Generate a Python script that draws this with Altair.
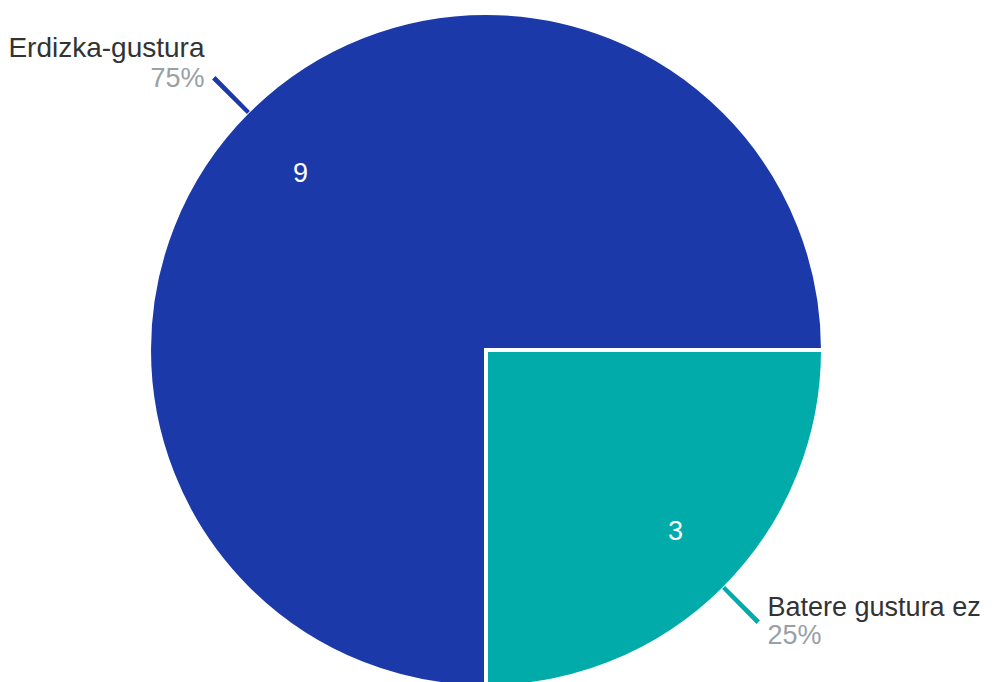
import math
import altair as alt
import pandas as pd

categories = ["Batere gustura ez", "Erdizka-gustura"]
values = [3, 9]
colors = ["#00aba9", "#1c39a9"]

df = pd.DataFrame({"category": categories, "value": values, "idx": list(range(len(categories)))})

theta_scale = alt.Scale(range=[math.pi / 2, math.pi / 2 + 2 * math.pi])
color_scale = alt.Scale(domain=categories, range=colors)
CX, CY = 478, 342
FONT = "Liberation Sans"

base = alt.Chart(df).transform_joinaggregate(total="sum(value)").transform_window(
    cum="sum(value)", sort=[alt.SortField("idx")], frame=[None, 0]
).transform_calculate(
    mid="datum.cum - datum.value / 2",
    t1="datum.cum - datum.value / 2 - 0.012",
    t2="datum.cum - datum.value / 2 + 0.012",
    pct="format(datum.value / datum.total, '.0%')",
)

pie = base.mark_arc(outerRadius=337, stroke="white", strokeWidth=4).encode(
    theta=alt.Theta("value:Q", stack=True, scale=theta_scale),
    color=alt.Color("category:N", scale=color_scale, legend=None),
    order=alt.Order("idx:Q"),
    x=alt.value(CX),
    y=alt.value(CY),
)

def inner(cat, dx, dy):
    return base.mark_text(radius=258, dx=dx, dy=dy, fontSize=27, font=FONT, color="white").encode(
        theta=alt.Theta("value:Q", stack=True, scale=theta_scale),
        text=alt.Text("value:Q"),
        opacity=alt.condition(alt.datum.category == cat, alt.value(1), alt.value(0)),
        order=alt.Order("idx:Q"),
        x=alt.value(CX),
        y=alt.value(CY),
    )

leaders = base.mark_arc(radius=336, radius2=385).encode(
    theta=alt.Theta("t1:Q", scale=theta_scale),
    theta2="t2:Q",
    color=alt.Color("category:N", scale=color_scale, legend=None),
    x=alt.value(CX),
    y=alt.value(CY),
)

def label(cat, field, dx, dy, align, color, size):
    return base.transform_filter(alt.datum.category == cat).mark_text(
        radius=384, dx=dx, dy=dy, align=align, baseline="middle",
        fontSize=size, font=FONT, color=color,
    ).encode(
        theta=alt.Theta("mid:Q", scale=theta_scale),
        text=alt.Text(field),
        x=alt.value(CX),
        y=alt.value(CY),
    )

layers = [
    pie, leaders,
    inner("Erdizka-gustura", -3, 6),
    inner("Batere gustura ez", 7, 0),
    label("Erdizka-gustura", "category:N", -10, -29, "right", "#333333", 28),
    label("Erdizka-gustura", "pct:N", -10, 1, "right", "#9aa0a6", 27),
    label("Batere gustura ez", "category:N", 10, -14, "left", "#333333", 27),
    label("Batere gustura ez", "pct:N", 10, 14, "left", "#9aa0a6", 27),
]

chart = alt.layer(*layers).properties(
    width=979, height=674, padding=0, autosize=alt.AutoSizeParams(type="none")
).configure_view(stroke=None)

chart.save("out.html", embed_options={"renderer": "svg", "actions": False})
